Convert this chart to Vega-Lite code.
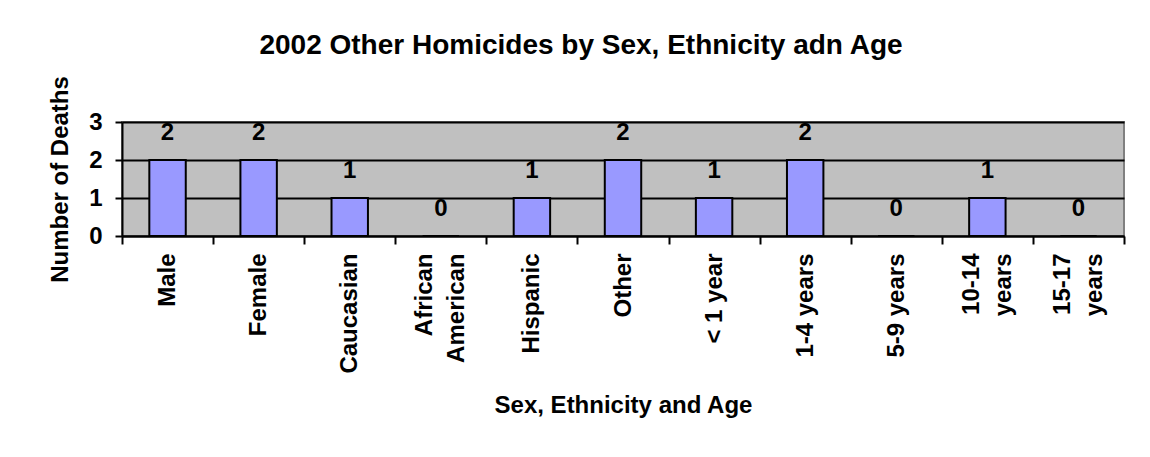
{
  "$schema": "https://vega.github.io/schema/vega-lite/v6.json",
  "width": 1002,
  "height": 114,
  "autosize": "none",
  "padding": {"left": 122, "top": 122, "right": 26, "bottom": 221},
  "background": "white",
  "title": {
    "text": "2002 Other Homicides by Sex, Ethnicity adn Age",
    "anchor": "middle",
    "frame": "group",
    "dx": -42,
    "offset": 16,
    "font": "Liberation Sans",
    "fontSize": 28,
    "fontWeight": "bold",
    "color": "black"
  },
  "data": {
    "values": [
      {"category": "Male", "deaths": 2},
      {"category": "Female", "deaths": 2},
      {"category": "Caucasian", "deaths": 1},
      {"category": "African American", "deaths": 0},
      {"category": "Hispanic", "deaths": 1},
      {"category": "Other", "deaths": 2},
      {"category": "< 1 year", "deaths": 1},
      {"category": "1-4 years", "deaths": 2},
      {"category": "5-9 years", "deaths": 0},
      {"category": "10-14 years", "deaths": 1},
      {"category": "15-17 years", "deaths": 0}
    ]
  },
  "encoding": {
    "x": {
      "field": "category",
      "type": "nominal",
      "sort": null,
      "scale": {"paddingInner": 0, "paddingOuter": 0},
      "axis": {
        "title": "Sex, Ethnicity and Age",
        "labelAngle": -90,
        "labelAlign": "right",
        "labelBaseline": "middle",
        "labelPadding": 9,
        "labelLineHeight": 32,
        "labelOffset": {"condition": {"test": "indexof(['African American', '10-14 years', '15-17 years'], datum.value) >= 0", "value": -16}, "value": 0},
        "labelExpr": "datum.label == 'African American' ? ['African', 'American'] : datum.label == '10-14 years' ? ['10-14', 'years'] : datum.label == '15-17 years' ? ['15-17', 'years'] : datum.label",
        "tickBand": "extent",
        "tickSize": 8,
        "tickWidth": 2,
        "tickColor": "black",
        "domainColor": "black",
        "domainWidth": 2,
        "titleY": 169,
        "titleBaseline": "middle"
      }
    },
    "y": {
      "field": "deaths",
      "type": "quantitative",
      "scale": {"domain": [0, 3], "nice": false},
      "axis": {
        "title": "Number of Deaths",
        "values": [0, 1, 2, 3],
        "format": "d",
        "tickSize": 7,
        "tickWidth": 2,
        "tickColor": "black",
        "domainColor": "black",
        "domainWidth": 2,
        "grid": true,
        "gridColor": "black",
        "gridWidth": 2,
        "labelPadding": 13,
        "titleX": -62,
        "titleY": 57,
        "titleAngle": -90,
        "titleAlign": "center",
        "titleBaseline": "middle",
        "titleAnchor": null
      }
    }
  },
  "layer": [
    {
      "mark": {"type": "bar", "width": {"band": 0.4}, "fill": "#9999FF", "stroke": "black", "strokeWidth": 2}
    },
    {
      "mark": {"type": "text", "dy": -27, "baseline": "middle", "font": "Liberation Sans", "fontSize": 24, "fontWeight": "bold", "color": "black"},
      "encoding": {"text": {"field": "deaths", "type": "quantitative"}}
    }
  ],
  "config": {
    "view": {"fill": "#C0C0C0", "stroke": "#808080", "strokeWidth": 2},
    "axis": {
      "labelFont": "Liberation Sans",
      "labelFontSize": 24,
      "labelFontWeight": "bold",
      "labelColor": "black",
      "labelOverlap": false,
      "labelLimit": 0,
      "titleFont": "Liberation Sans",
      "titleFontSize": 24,
      "titleFontWeight": "bold",
      "titleColor": "black"
    }
  }
}
